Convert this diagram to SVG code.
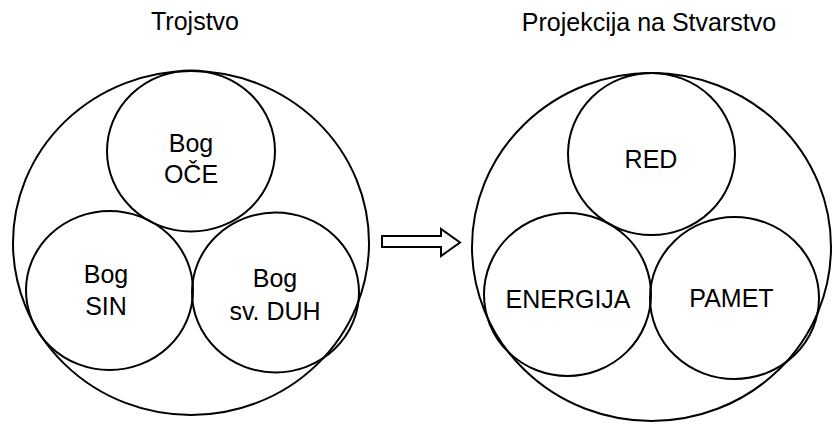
<svg xmlns="http://www.w3.org/2000/svg" width="832" height="423" viewBox="0 0 832 423">
<style>
.c{fill:none;stroke:#000;stroke-width:2}
.t{font-family:"Liberation Sans",Arial,sans-serif;font-size:25px;fill:#000;text-anchor:middle}
</style>
<rect width="832" height="423" fill="#fff"/>
<text class="t" x="195" y="30">Trojstvo</text>
<text class="t" x="649" y="31">Projekcija na Stvarstvo</text>
<g id="trojstvo">
<ellipse class="c" cx="191" cy="243" rx="178" ry="172"/>
</g>
<g id="otac">
<ellipse class="c" cx="191" cy="151" rx="84" ry="80.5"/>
<text class="t" x="191" y="152">Bog</text>
<text class="t" x="191" y="183">OČE</text>
</g>
<g id="sin">
<ellipse class="c" cx="109.5" cy="290.5" rx="83.5" ry="79.5"/>
<text class="t" x="106" y="283">Bog</text>
<text class="t" x="106" y="315">SIN</text>
</g>
<g id="duh">
<ellipse class="c" cx="275.5" cy="292.5" rx="83.5" ry="80"/>
<text class="t" x="275" y="287">Bog</text>
<text class="t" x="275" y="320">sv. DUH</text>
</g>
<g id="stvarstvo">
<ellipse class="c" cx="651.5" cy="247" rx="179.5" ry="174"/>
</g>
<g id="red">
<ellipse class="c" cx="651.5" cy="154" rx="83.5" ry="81"/>
<text class="t" x="651" y="168">RED</text>
</g>
<g id="energija">
<ellipse class="c" cx="567.5" cy="294.5" rx="83.5" ry="81.5"/>
<text class="t" x="568" y="308">ENERGIJA</text>
</g>
<g id="pamet">
<ellipse class="c" cx="734.5" cy="298" rx="84.5" ry="81"/>
<text class="t" x="731.5" y="307">PAMET</text>
</g>
<g id="connectors">
<polygon points="382,236 441,236 441,229 460,242.5 441,256 441,247 382,247" fill="#fff" stroke="#000" stroke-width="2"/>
</g>
</svg>
